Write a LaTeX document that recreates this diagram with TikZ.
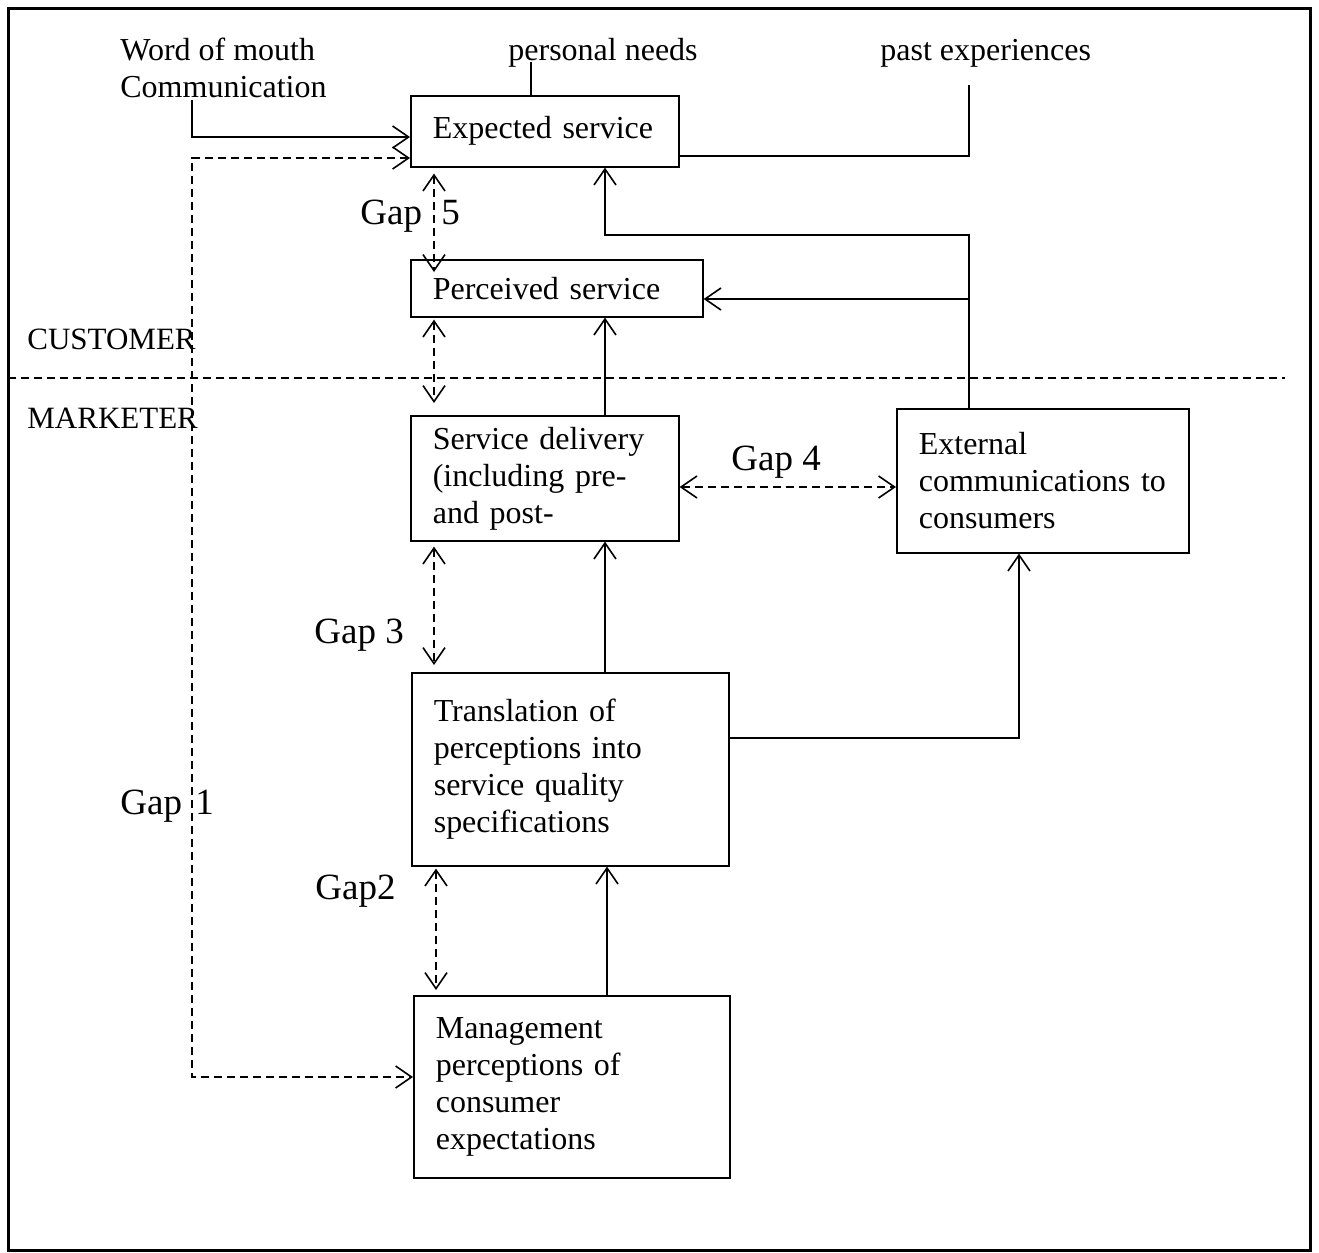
\documentclass[tikz,border=0pt]{standalone}
\usepackage{fontspec}
\setmainfont{Liberation Serif}
\usetikzlibrary{arrows.meta}
\begin{document}
\begin{tikzpicture}[x=0.5pt,y=-0.5pt,
  ln/.style={line width=0.8pt},
  arr/.style={ln,-{Straight Barb[length=8pt,width=11pt,line width=0.8pt]}},
  darr/.style={ln,dash pattern=on 4pt off 2.5pt,{Straight Barb[length=8pt,width=11pt,line width=0.8pt]}-{Straight Barb[length=8pt,width=11pt,line width=0.8pt]}},
  dline/.style={ln,dash pattern=on 4pt off 2.5pt},
  box/.style={draw,ln,anchor=north west,align=left,inner xsep=11pt,inner ysep=2pt,
    font=\fontsize{16}{18.5}\selectfont},
  lbl/.style={anchor=base west,inner sep=0pt,font=\fontsize{16}{18.5}\selectfont},
  side/.style={anchor=base west,inner sep=0pt,font=\fontsize{15.5}{18}\selectfont},
  gap/.style={anchor=base west,inner sep=0pt,font=\fontsize{18.5}{22}\selectfont}]
\useasboundingbox (0,0) rectangle (1319,1253);
\draw[line width=1.5pt] (8,8) rectangle (1310,1250);

% boxes
\node[box,text width=112pt,minimum height=35.5pt] (exp) at (410,95) {Expected service};
\node[box,text width=124pt,minimum height=28.5pt] (per) at (410,259) {Perceived service};
\node[box,text width=112pt,minimum height=62.5pt] (sd) at (410,415) {Service delivery\\(including pre-\\and post-};
\node[box,text width=124pt,minimum height=72pt] (ext) at (896,408) {External\\communications to\\consumers};
\node[box,text width=136.5pt,minimum height=96.5pt] (tr) at (411,672) {Translation of\\perceptions into\\service quality\\specifications};
\node[box,text width=136pt,minimum height=91pt] (mg) at (413,995) {Management\\perceptions of\\consumer\\expectations};

% top labels
\node[anchor=north west,inner sep=0pt,align=left,font=\fontsize{16}{37pt}\selectfont] (wom) at (120,38) {Word of mouth\\[-18.5pt]Communication};
\node[lbl] (pn) at (508,60) {personal needs};
\node[lbl] (pe) at (880,60) {past experiences};
\node[side] (cu) at (27,349) {CUSTOMER};
\node[side] (ma) at (27,428) {MARKETER};

% gap labels
\node[gap] (g5) at (360,224) {Gap \hspace{5pt}5};
\node[gap] (g4) at (731,470) {Gap 4};
\node[gap] (g3) at (314,643) {Gap 3};
\node[gap] (g1) at (120,814) {Gap \hspace{2pt}1};
\node[gap] (g2) at (315,899) {Gap2};

% customer / marketer divider
\draw[dline] (8,378) -- (1285,378);

% inputs to expected service
\draw[arr] (192,100) |- (exp.west |- 0,137);
\draw[ln] (531,62) -- (exp.north -| 531,0);
\draw[ln] (969,85) -- (969,156) -- (exp.east |- 0,156);

% gap 1 dashed loop
\draw[darr] (exp.west |- 0,158) -| (192,1077) -- (mg.west |- 0,1077);

% external communications feedback
\draw[arr] (ext.north -| 969,0) -- (969,235) -| (exp.south -| 605,0);
\draw[arr] (969,299) -- (per.east |- 0,299);

% main vertical flow
\draw[arr] (sd.north -| 605,0) -- (per.south -| 605,0);
\draw[arr] (tr.north -| 605,0) -- (sd.south -| 605,0);
\draw[arr] (mg.north -| 607,0) -- (tr.south -| 607,0);
\draw[arr] (tr.east |- 0,738) -| (ext.south -| 1019,0);

% gaps
\draw[darr,shorten <=3pt,shorten >=-6.5pt] (exp.south -| 434,0) -- (per.north -| 434,0);
\draw[darr,shorten <=1pt,shorten >=6pt] (per.south -| 434,0) -- (sd.north -| 434,0);
\draw[darr,shorten <=2.5pt,shorten >=3.5pt] (sd.south -| 434,0) -- (tr.north -| 434,0);
\draw[darr,shorten <=1pt,shorten >=2.5pt] (tr.south -| 436,0) -- (mg.north -| 436,0);
\draw[darr] (sd.east |- 0,487) -- (ext.west |- 0,487);
\end{tikzpicture}
\end{document}
